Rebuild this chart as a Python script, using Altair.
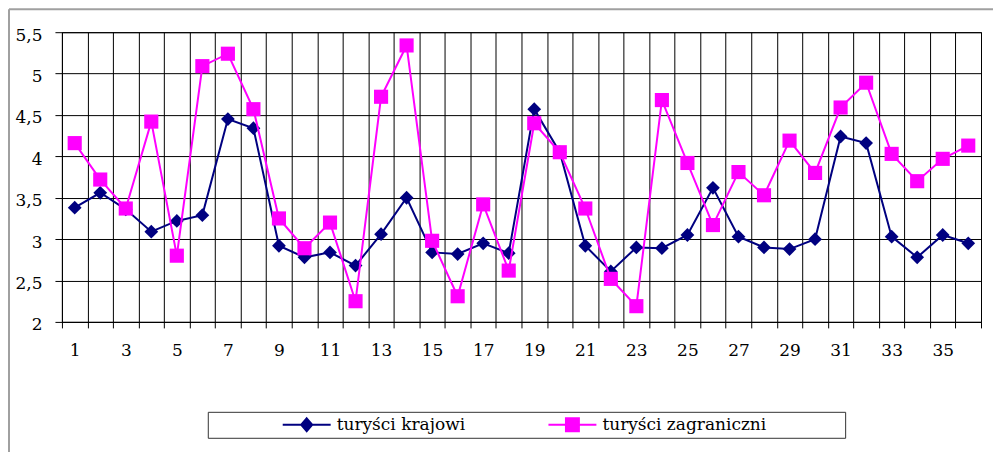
import altair as alt
import pandas as pd

categories = list(range(1, 37))
krajowi = [3.38, 3.56, 3.36, 3.09, 3.22, 3.29, 4.45, 4.34, 2.92, 2.78,
           2.84, 2.68, 3.06, 3.50, 2.84, 2.82, 2.95, 2.83, 4.57, 4.05,
           2.92, 2.61, 2.90, 2.89, 3.05, 3.62, 3.03, 2.90, 2.88, 3.00,
           4.24, 4.16, 3.03, 2.78, 3.05, 2.95]
zagraniczni = [4.16, 3.72, 3.37, 4.42, 2.80, 5.09, 5.24, 4.57, 3.25, 2.89,
               3.20, 2.25, 4.72, 5.34, 2.98, 2.31, 3.42, 2.62, 4.40, 4.05,
               3.37, 2.52, 2.19, 4.68, 3.92, 3.17, 3.81, 3.53, 4.19, 3.80,
               4.59, 4.89, 4.03, 3.70, 3.97, 4.13]
series_names = ["turyści krajowi", "turyści zagraniczni"]
series_colors = ["#000080", "#ff00ff"]
series_shapes = ["diamond", "square"]
series_sizes = [190, 200]
y_ticks = [2, 2.5, 3, 3.5, 4, 4.5, 5, 5.5]

rows = []
for name, vals in zip(series_names, [krajowi, zagraniczni]):
    for c, v in zip(categories, vals):
        rows.append({"idx": c, "value": v, "series": name})
df = pd.DataFrame(rows)

FONT = "DejaVu Serif"
FS = 17

color_scale = alt.Scale(domain=series_names, range=series_colors)

x_enc = alt.X(
    "idx:O",
    scale=alt.Scale(type="band", paddingInner=0, paddingOuter=0),
    axis=alt.Axis(
        title=None, tickBand="extent", grid=True, gridColor="#000000",
        gridOpacity=1, gridWidth=1, domainColor="#000000", domainWidth=1,
        tickColor="#000000", tickSize=6, tickWidth=1,
        labelExpr="datum.value % 2 == 1 ? datum.label : ''",
        labelAngle=0, labelOverlap=False, labelFont=FONT, labelFontSize=FS,
        labelColor="#000000", labelPadding=15,
    ),
)
y_enc = alt.Y(
    "value:Q",
    scale=alt.Scale(domain=[2, 5.5], nice=False, zero=False),
    axis=alt.Axis(
        title=None, values=y_ticks, grid=True, gridColor="#000000",
        gridOpacity=1, gridWidth=1, domainColor="#000000", domainWidth=1,
        tickColor="#000000", tickSize=7, tickWidth=1,
        labelExpr="replace(toString(datum.value), '.', ',')",
        labelFont=FONT, labelFontSize=FS, labelColor="#000000",
        labelPadding=13, labelOffset=3,
    ),
)

path_k = "M-1,0L1,0M0,-0.27L0.23,0L0,0.27L-0.23,0Z"
path_z = "M-1,0L1,0M-0.27,-0.27L0.27,-0.27L0.27,0.27L-0.27,0.27Z"
first = series_names[0]
pad_right = "\u2800" * 6

legend = alt.Legend(
    title="\u00a0", titleOrient="left", titleFontSize=1, titlePadding=70,
    orient="none", legendX=146, legendY=380, direction="horizontal",
    columns=2, columnPadding=82, padding=4, clipHeight=18,
    strokeColor="#333333", fillColor="#ffffff",
    labelFont=FONT, labelFontSize=FS, labelColor="#000000", labelLimit=500,
    labelOffset=5,
    labelExpr="datum.label == '" + first + "' ? datum.label : datum.label + '" + pad_right + "'",
    symbolSize=2304, symbolStrokeWidth=2, symbolOpacity=1,
    symbolType={"expr": "datum.value == '" + first + "' ? '" + path_k + "' : '" + path_z + "'"},
    symbolStrokeColor={"expr": "datum.value == '" + first + "' ? '" + series_colors[0] + "' : '" + series_colors[1] + "'"},
)

base = alt.Chart(df)
layers = []
for i, name in enumerate(series_names):
    sub = base.transform_filter(alt.datum.series == name)
    line = sub.mark_line(strokeWidth=2, color=series_colors[i]).encode(
        x=x_enc, y=y_enc,
    )
    if i == 0:
        pts = sub.mark_point(
            shape=series_shapes[i], filled=True, opacity=1, size=series_sizes[i]
        ).encode(
            x=x_enc, y=y_enc,
            color=alt.Color("series:N", scale=color_scale, legend=legend),
        )
    else:
        pts = sub.mark_point(
            shape=series_shapes[i], filled=True, opacity=1, size=series_sizes[i],
            color=series_colors[i],
        ).encode(x=x_enc, y=y_enc)
    layers += [line, pts]

frame_df = pd.DataFrame({"a": [0]})
frame_left = alt.Chart(frame_df).mark_rule(color="#a0a0a0", strokeWidth=2).encode(
    x=alt.value(-53), y=alt.value(-23), y2=alt.value(430)
)
frame_top = alt.Chart(frame_df).mark_rule(color="#a0a0a0", strokeWidth=2).encode(
    x=alt.value(-53), x2=alt.value(940), y=alt.value(-23)
)

chart = alt.layer(frame_left, frame_top, *layers).properties(
    width=920, height=290,
    autosize=alt.AutoSizeParams(type="none"),
    padding={"left": 54, "top": 24, "right": 12, "bottom": 130},
).configure_view(stroke="#000000", strokeWidth=1)

chart.save("out.html", embed_options={"renderer": "svg", "actions": False})
